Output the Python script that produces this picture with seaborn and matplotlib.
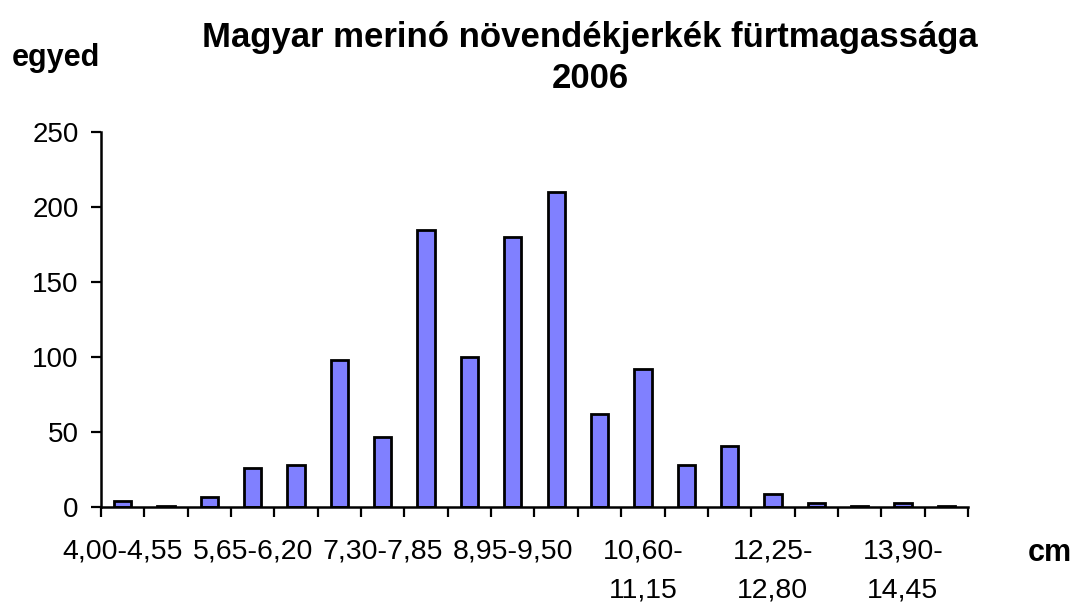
import matplotlib
matplotlib.use("Agg")
import matplotlib.pyplot as plt
import seaborn as sns
import pandas as pd

# category bins (cm), every bin is 0,55 cm wide
bins = ['4,00-4,55', '4,55-5,10', '5,10-5,65', '5,65-6,20', '6,20-6,75',
        '6,75-7,30', '7,30-7,85', '7,85-8,40', '8,40-8,95', '8,95-9,50',
        '9,50-10,05', '10,05-10,60', '10,60-11,15', '11,15-11,70', '11,70-12,25',
        '12,25-12,80', '12,80-13,35', '13,35-13,90', '13,90-14,45', '14,45-15,00']
counts = [4, 1, 7, 26, 28, 98, 47, 185, 100, 180,
          210, 62, 92, 28, 41, 9, 3, 1, 3, 1]

# only every third bin is labelled on the axis
label_pos = [0, 3, 6, 9, 12, 15, 18]
label_txt = ['4,00-4,55', '5,65-6,20', '7,30-7,85', '8,95-9,50',
             '10,60-\n11,15', '12,25-\n12,80', '13,90-\n14,45']

df = pd.DataFrame({'bin': bins, 'n': counts})

sns.set_style('white')
plt.rcParams['font.family'] = ['Liberation Sans', 'DejaVu Sans']
plt.rcParams['text.color'] = 'black'

fig = plt.figure(figsize=(10.77, 6.09), dpi=100)
ax = fig.add_axes([101 / 1077, 1 - 507 / 609, 867 / 1077, 375 / 609])

sns.barplot(data=df, x='bin', y='n', color='#8080FF', saturation=1,
            edgecolor='black', linewidth=2, width=0.4, ax=ax)

ax.set_xlim(-0.5, len(bins) - 0.5)
ax.set_ylim(0, 250)
ax.set_yticks(range(0, 251, 50))
ax.tick_params(axis='y', labelsize=20, length=7, width=1.6, direction='out',
               left=True, pad=9, colors='black')

# tick marks between categories, labels at bar centres
ax.set_xticks([i - 0.5 for i in range(len(bins) + 1)])
ax.set_xticklabels([])
ax.tick_params(axis='x', which='major', length=7, width=1.6, direction='out',
               bottom=True, colors='black')
ax.set_xticks(label_pos, minor=True)
ax.set_xticklabels(label_txt, minor=True, fontsize=20.5, linespacing=1.65)
ax.tick_params(axis='x', which='minor', length=0, pad=23, colors='black')

ax.set_xlabel('')
ax.set_ylabel('')
for s in ['top', 'right']:
    ax.spines[s].set_visible(False)
for s in ['left', 'bottom']:
    ax.spines[s].set_linewidth(1.8)
    ax.spines[s].set_color('black')

fig.text(590 / 1077, 1 - 58 / 609, 'Magyar merinó növendékjerkék fürtmagassága\n2006',
         ha='center', va='center', fontsize=25, fontweight='bold', linespacing=1.3,
         color='black')
fig.text(56 / 1077, 1 - 58 / 609, 'egyed', ha='center', va='center',
         fontsize=22, fontweight='bold', color='black')
fig.text(1050 / 1077, 1 - 553 / 609, 'cm', ha='center', va='center',
         fontsize=22, fontweight='bold', color='black')

fig.savefig('out.png', dpi=100)
